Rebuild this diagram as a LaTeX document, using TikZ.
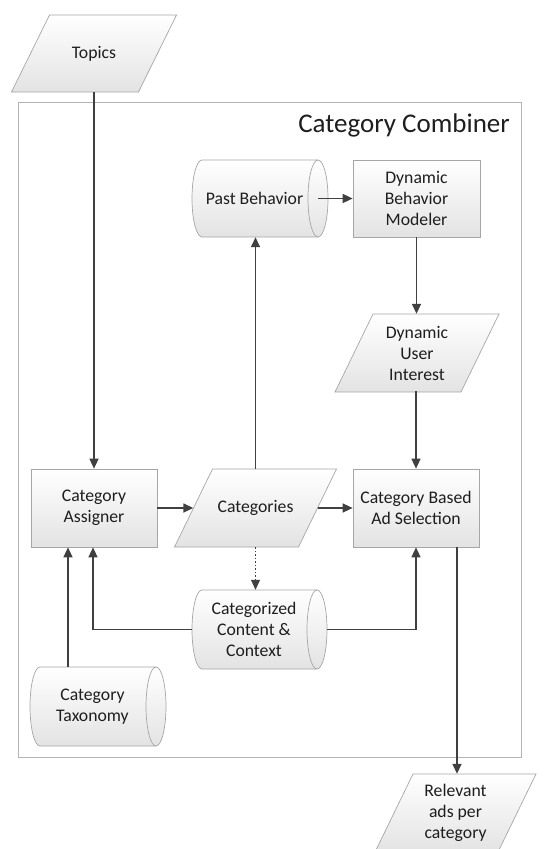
\documentclass[tikz,border=0pt]{standalone}
\usepackage{fontspec}
\setmainfont{Carlito}
\usetikzlibrary{arrows.meta}

\definecolor{inkline}{HTML}{404040}
\definecolor{edgegray}{HTML}{A6A6A6}
\definecolor{framegray}{HTML}{B4B4B4}
\definecolor{txt}{HTML}{1E1E1E}

\tikzset{
  shapefill/.style={top color=white, bottom color=black!11, draw=edgegray, line width=0.7pt},
  shapeedge/.style={draw=edgegray, line width=0.7pt},
  label text/.style={text=txt, align=center, font=\fontsize{17.7}{21}\selectfont, inner sep=0pt},
  flow/.style={draw=inkline, line width=1.5pt, -{Triangle[length=10pt,width=9pt]}},
  container/.style={draw=framegray, line width=1pt, rectangle, inner sep=0pt},
}

\def\drumrad{10}

% process box: name, cx, cy, width, height, text
\newcommand\procbox[6]{%
  \node[shapefill, label text, rectangle, minimum width=#4pt, minimum height=#5pt] (#1) at (#2,#3) {#6};
}

% data parallelogram (top edge shifted right by 38): name, cx, cy, edge width, height, text
\newcommand\slantbox[6]{%
  \path[shapefill] (#2-#4/2-19,#3+#5/2) -- (#2+#4/2-19,#3+#5/2)
    -- (#2+#4/2+19,#3-#5/2) -- (#2-#4/2+19,#3-#5/2) -- cycle;
  \node[label text, minimum width=#4pt, minimum height=#5pt] (#1) at (#2,#3) {#6};
}

% stored data drum (horizontal cylinder): name, cx, cy, width, height, text
% the text sits centred on the body, left of the visible end face
\newcommand\datadrum[6]{%
  \path[shapefill] (#2-#4/2+\drumrad,#3-#5/2) -- (#2+#4/2-\drumrad,#3-#5/2)
    arc[start angle=90, end angle=-90, x radius=\drumrad pt, y radius=#5*0.5pt]
    -- (#2-#4/2+\drumrad,#3+#5/2)
    arc[start angle=270, end angle=90, x radius=\drumrad pt, y radius=#5*0.5pt] -- cycle;
  \draw[shapeedge] (#2+#4/2-\drumrad,#3-#5/2)
    arc[start angle=90, end angle=270, x radius=\drumrad pt, y radius=#5*0.5pt];
  \node[inner sep=0pt, minimum width=#4pt, minimum height=#5pt] (#1) at (#2,#3) {};
  \node[label text] (#1-text) at (#2-5.5,#3) {#6};
}

\begin{document}
\begin{tikzpicture}[x=1pt, y=-1pt]
  \useasboundingbox (0,0) rectangle (556,849);
  \clip (0,0) rectangle (556,849);

  % enclosing component
  \node[container, minimum width=503pt, minimum height=655pt] (combiner) at (269.5,429.5) {};
  \node[anchor=base east, text=txt, font=\fontsize{27}{32}\selectfont, inner sep=0pt]
    (title) at (510,132.5) {Category Combiner};

  % shapes
  \slantbox{topics}{94}{53.5}{127}{77}{Topics}
  \datadrum{past}{260}{198.5}{136}{77}{Past Behavior}
  \procbox{modeler}{416.5}{198.5}{127}{77}{Dynamic\\Behavior\\Modeler}
  \slantbox{interest}{417}{353}{126}{78}{Dynamic\\User\\Interest}
  \procbox{assigner}{94}{508}{126}{78}{Category\\Assigner}
  \slantbox{cats}{255.5}{508}{124}{78}{Categories}
  \procbox{selection}{416}{508}{126}{78}{Category Based\\Ad Selection}
  \datadrum{content}{259.5}{629.5}{135}{79}{Categorized\\Content \&\\Context}
  \datadrum{taxonomy}{98}{706.5}{136}{79}{Category\\Taxonomy}
  \slantbox{relevant}{455.5}{813}{123}{78}{Relevant\\ads per\\category}

  % connectors
  \draw[flow] (topics.south) -- (topics.south |- assigner.north);
  \draw[flow] (assigner.east) -- (cats.west);
  \draw[flow] (cats.east) -- (selection.west);
  \draw[flow] (cats.north) -- (cats.north |- past.south);
  \draw[flow] ([xshift=-\drumrad pt]past.east) -- (modeler.west);
  \draw[flow] (modeler.south) -- (modeler.south |- interest.north);
  \draw[flow] (interest.south) -- (interest.south -| selection.north) -- (selection.north);
  \draw[flow, dotted, line width=1pt] (cats.south) -- (cats.south |- content.north);
  \draw[flow] (content.west) -| ([xshift=-1pt]assigner.south);
  \draw[flow] (content.east) -| (selection.south);
  \draw[flow] ([xshift=-30pt]taxonomy.north) -- ([xshift=-26pt]assigner.south);
  \coordinate (adsout) at ([xshift=41pt]selection.south);
  \draw[flow] (adsout) -- (adsout |- relevant.north);
\end{tikzpicture}
\end{document}
